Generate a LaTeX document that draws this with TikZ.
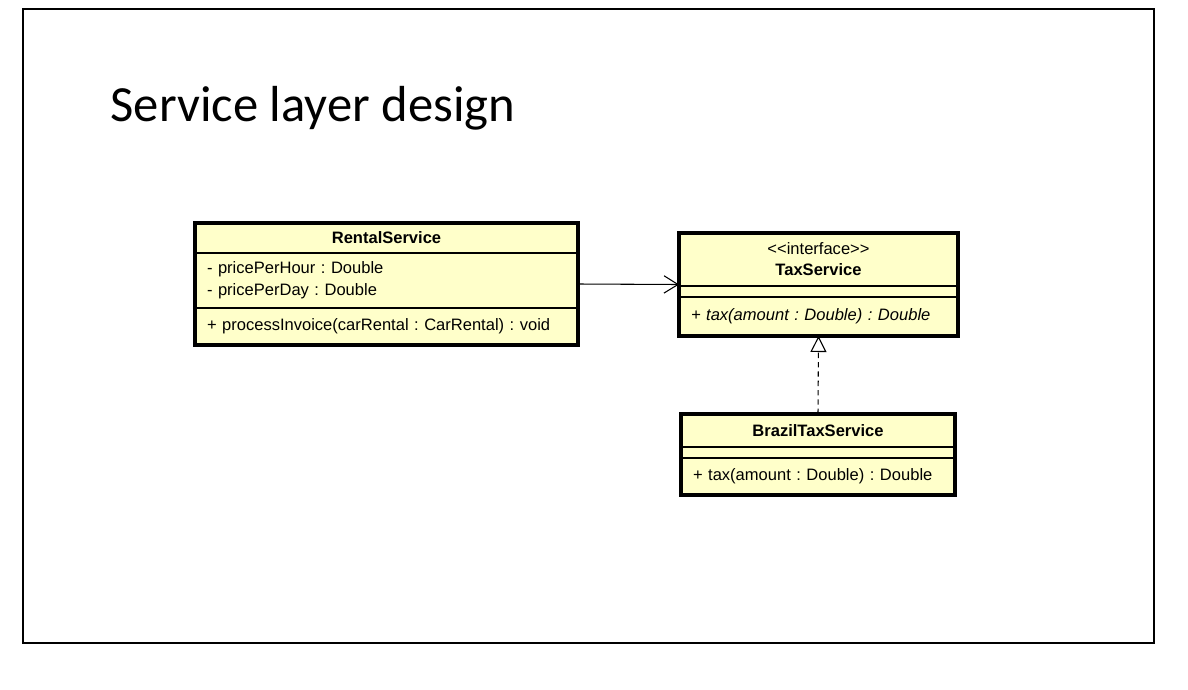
\documentclass[tikz,border=0pt]{standalone}
\usepackage{fontspec}
\setmainfont{Liberation Sans}
\newfontfamily\slidefont{Carlito}
\usetikzlibrary{
	arrows.meta,
	positioning
}
\definecolor{umlyellow}{RGB}{255,255,202}
\frenchspacing
\tikzset{
	classhead/.style={draw, fill=umlyellow, line width=0.9pt, outer sep=0pt, inner xsep=9pt, inner ysep=0pt, align=center, font=\fontsize{12.4}{15.75}\selectfont},
	classbody/.style={draw, fill=umlyellow, line width=0.9pt, outer sep=0pt, inner xsep=9pt, inner ysep=0pt, align=left, font=\fontsize{12.4}{16.5}\selectfont},
	classframe/.style={draw, line width=2.6pt, inner sep=0pt, outer sep=0pt, anchor=north west},
	assoc/.style={-{Straight Barb[length=10.5pt,width=13pt]}, line width=0.8pt},
	realize/.style={-{Triangle[open,length=12pt,width=12pt,fill=white]}, dash pattern=on 4pt off 3pt, line width=0.8pt}
}

\begin{document}
\begin{tikzpicture}[x=0.75pt,y=-0.75pt]
    \useasboundingbox (0,0) rectangle (1188,689);
    % Definitions
    \coordinate (Rental) at (195,223);
    \coordinate (Tax)    at (679,233);
    \coordinate (Brazil) at (681,414);
    % Slide frame and title
    \draw[line width=1.8pt] (23,9) rectangle (1154,643);
    \node(title) at (106,121) [anchor=base west, font=\slidefont\fontsize{38}{44}\selectfont] {Service layer design};
    % RentalService
    \node(rsh) at (Rental) [classhead, anchor=north west, text width=269.25pt, minimum height=22.5pt] {\bfseries RentalService};
    \node(rsa) [classbody, text width=269.25pt, minimum height=41.25pt, below=0pt of rsh] {- pricePerHour : Double\\- pricePerDay : Double};
    \node(rsm) [classbody, text width=269.25pt, minimum height=27.75pt, below=0pt of rsa] {+ processInvoice(carRental : CarRental) : void};
    \node(rs) at (Rental) [classframe, minimum width=287.25pt, minimum height=91.5pt] {};
    % TaxService
    \node(tsh) at (Tax) [classhead, anchor=north west, text width=191.25pt, minimum height=39.75pt] {<\kern0pt<interface>\kern0pt>\\\bfseries TaxService};
    \node(tsa) [classbody, text width=191.25pt, minimum height=8.25pt, below=0pt of tsh] {};
    \node(tsm) [classbody, text width=191.25pt, minimum height=29.25pt, below=0pt of tsa] {\itshape + tax(amount : Double) : Double};
    \node(ts) at (Tax) [classframe, minimum width=209.25pt, minimum height=77.25pt] {};
    % BrazilTaxService
    \node(bth) at (Brazil) [classhead, anchor=north west, text width=187.5pt, minimum height=24.75pt] {\bfseries BrazilTaxService};
    \node(bta) [classbody, text width=187.5pt, minimum height=8.25pt, below=0pt of bth] {};
    \node(btm) [classbody, text width=187.5pt, minimum height=27.75pt, below=0pt of bta] {+ tax(amount : Double) : Double};
    \node(bt) at (Brazil) [classframe, minimum width=205.5pt, minimum height=60.75pt] {};
    % Arrows
    \draw[assoc]   (rs.east) -- (ts.west);
    \draw[realize] (bt.north) -- (ts.south);
\end{tikzpicture}
\end{document}
